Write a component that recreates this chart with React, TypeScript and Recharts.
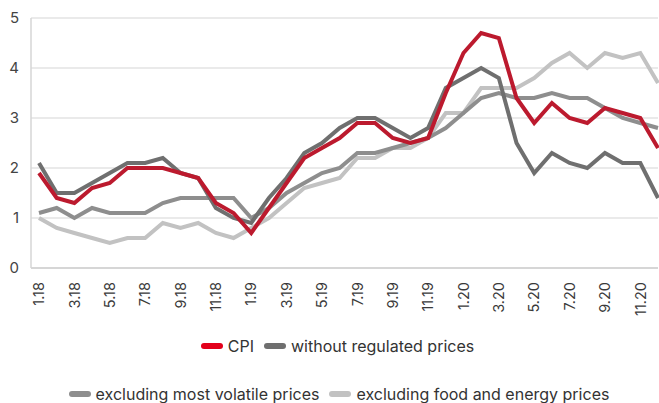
import React from "react";
import { LineChart, Line, XAxis, YAxis, CartesianGrid, Legend } from "recharts";

const months = [
  "1.18","2.18","3.18","4.18","5.18","6.18","7.18","8.18","9.18","10.18","11.18","12.18",
  "1.19","2.19","3.19","4.19","5.19","6.19","7.19","8.19","9.19","10.19","11.19","12.19",
  "1.20","2.20","3.20","4.20","5.20","6.20","7.20","8.20","9.20","10.20","11.20","12.20",
];

const cpi = [
  1.9,1.4,1.3,1.6,1.7,2.0,2.0,2.0,1.9,1.8,1.3,1.1,
  0.7,1.2,1.7,2.2,2.4,2.6,2.9,2.9,2.6,2.5,2.6,3.5,
  4.3,4.7,4.6,3.4,2.9,3.3,3.0,2.9,3.2,3.1,3.0,2.4,
];
const withoutRegulated = [
  2.1,1.5,1.5,1.7,1.9,2.1,2.1,2.2,1.9,1.8,1.2,1.0,
  0.9,1.4,1.8,2.3,2.5,2.8,3.0,3.0,2.8,2.6,2.8,3.6,
  3.8,4.0,3.8,2.5,1.9,2.3,2.1,2.0,2.3,2.1,2.1,1.4,
];
const exclVolatile = [
  1.1,1.2,1.0,1.2,1.1,1.1,1.1,1.3,1.4,1.4,1.4,1.4,
  1.0,1.2,1.5,1.7,1.9,2.0,2.3,2.3,2.4,2.5,2.6,2.8,
  3.1,3.4,3.5,3.4,3.4,3.5,3.4,3.4,3.2,3.0,2.9,2.8,
];
const exclFoodEnergy = [
  1.0,0.8,0.7,0.6,0.5,0.6,0.6,0.9,0.8,0.9,0.7,0.6,
  0.8,1.0,1.3,1.6,1.7,1.8,2.2,2.2,2.4,2.4,2.6,3.1,
  3.1,3.6,3.6,3.6,3.8,4.1,4.3,4.0,4.3,4.2,4.3,3.7,
];
const yTicks = [0, 1, 2, 3, 4, 5];

const seriesNames = {
  cpi: "CPI",
  withoutRegulated: "without regulated prices",
  exclVolatile: "excluding most volatile prices",
  exclFoodEnergy: "excluding food and energy prices",
};

const COLORS = {
  cpi: "#bc1a2e",
  cpiLegend: "#e3001b",
  withoutRegulated: "#6f6f6f",
  exclVolatile: "#8e8e8e",
  exclFoodEnergy: "#c2c2c2",
};

const data = months.map((m, i) => ({
  month: m,
  cpi: cpi[i],
  withoutRegulated: withoutRegulated[i],
  exclVolatile: exclVolatile[i],
  exclFoodEnergy: exclFoodEnergy[i],
}));

const FONT = "Inter, 'Noto Sans', sans-serif";

const XTick = (props: any) => {
  const { x, y, payload } = props;
  return (
    <text
      x={x}
      y={y}
      transform={`rotate(-90, ${x}, ${y})`}
      textAnchor="end"
      dy="0.36em"
      fontSize={14.5}
      fill="#3a3a3a"
      fontFamily={FONT}
    >
      {payload.value}
    </text>
  );
};

const Marker = ({ color }: { color: string }) => (
  <span
    style={{
      display: "inline-block",
      width: 22,
      height: 6,
      borderRadius: 3,
      background: color,
      marginRight: 5,
      verticalAlign: "middle",
    }}
  />
);

const LegendContent = () => {
  const item = (color: string, label: string) => (
    <span style={{ display: "inline-flex", alignItems: "center", margin: "0 5px" }}>
      <Marker color={color} />
      <span>{label}</span>
    </span>
  );
  return (
    <div
      style={{
        height: 75,
        fontFamily: FONT,
        fontSize: 16,
        lineHeight: "18px",
        color: "#333",
        textAlign: "center",
        boxSizing: "border-box",
      }}
    >
      <div style={{ position: "absolute", top: 6, left: 0, right: 0, textAlign: "center", paddingLeft: 17, whiteSpace: "nowrap" }}>
        {item(COLORS.cpiLegend, seriesNames.cpi)}
        {item(COLORS.withoutRegulated, seriesNames.withoutRegulated)}
      </div>
      <div style={{ position: "absolute", top: 54, left: 0, right: 0, textAlign: "center", paddingLeft: 20, whiteSpace: "nowrap" }}>
        {item(COLORS.exclVolatile, seriesNames.exclVolatile)}
        {item(COLORS.exclFoodEnergy, seriesNames.exclFoodEnergy)}
      </div>
    </div>
  );
};

export default function App() {
  return (
    <div style={{ position: "absolute", left: 0, top: 0, width: 659, height: 403, background: "#fff", overflow: "hidden" }}>
      <LineChart width={659} height={403} data={data} margin={{ top: 18, right: 1, left: 0, bottom: 0 }}>
        <CartesianGrid horizontal vertical={false} stroke="#e3e3e3" strokeWidth={1.5} />
        <XAxis
          dataKey="month"
          interval={1}
          height={60}
          tickSize={0}
          tickMargin={14}
          tickLine={false}
          axisLine={{ stroke: "#cfcfcf", strokeWidth: 1.5 }}
          padding={{ left: 8, right: 0 }}
          tick={<XTick />}
        />
        <YAxis
          domain={[0, 5]}
          ticks={yTicks}
          width={31}
          tickSize={0}
          tickMargin={12}
          tickLine={false}
          axisLine={{ stroke: "#d6d6d6", strokeWidth: 1.5 }}
          tick={{ fontSize: 15, fill: "#444", fontFamily: FONT }}
        />
        <Legend verticalAlign="bottom" height={75} content={<LegendContent />} />
        <Line type="linear" dataKey="exclFoodEnergy" name={seriesNames.exclFoodEnergy} stroke={COLORS.exclFoodEnergy} strokeWidth={4} dot={false} isAnimationActive={false} />
        <Line type="linear" dataKey="exclVolatile" name={seriesNames.exclVolatile} stroke={COLORS.exclVolatile} strokeWidth={4} dot={false} isAnimationActive={false} />
        <Line type="linear" dataKey="withoutRegulated" name={seriesNames.withoutRegulated} stroke={COLORS.withoutRegulated} strokeWidth={4} dot={false} isAnimationActive={false} />
        <Line type="linear" dataKey="cpi" name={seriesNames.cpi} stroke={COLORS.cpi} strokeWidth={4} dot={false} isAnimationActive={false} />
      </LineChart>
    </div>
  );
}
